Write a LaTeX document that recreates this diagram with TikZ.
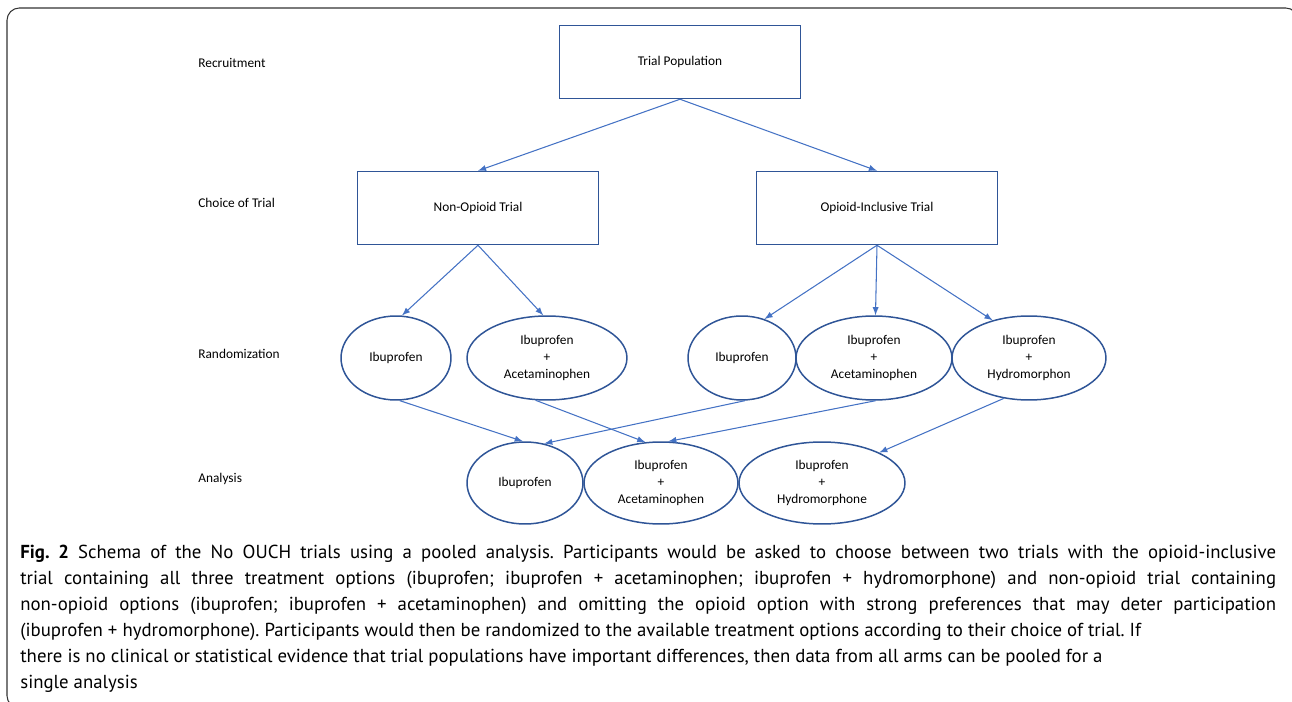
\documentclass[tikz,border=0pt]{standalone}
\usepackage{fontspec}
\setmainfont{Carlito}
\newfontfamily\capfont{PT Sans}
\usetikzlibrary{shapes.geometric}
\definecolor{boxblue}{RGB}{47,85,151}
\definecolor{arrblue}{RGB}{68,114,196}
\newlength\capw
\setlength\capw{25.12cm}

\begin{document}
\begin{tikzpicture}[x=0.02cm,y=-0.02cm,
    trial/.style={draw=boxblue,line width=0.85pt,minimum width=4.82cm,minimum height=1.46cm,inner sep=0pt,font=\fontsize{7.6}{9.6}\selectfont},
    arm/.style={ellipse,draw=boxblue,line width=0.85pt,inner sep=0pt,align=center,font=\fontsize{7.6}{9.6}\selectfont},
    stage/.style={anchor=west,inner sep=0pt,font=\fontsize{7.6}{9.6}\selectfont},
    arr/.style={-latex,draw=arrblue,line width=0.6pt}]
  \clip (0,0) rectangle (1292,702);
  \draw[rounded corners=7pt,line width=0.6pt,black!80] (7,8) rectangle (1298,708);
  % stages
  \node[stage] (recr) at (198,63) {Recruitment};
  \node[stage] (choice) at (198,203) {Choice of Trial};
  \node[stage] (rand) at (198,354) {Randomization};
  \node[stage] (anal) at (198,479) {Analysis};
  % trials
  \node[trial] (pop) at (680,62) {Trial Population};
  \node[trial] (nonop) at (478,208) {Non-Opioid Trial};
  \node[trial] (opinc) at (877,208) {Opioid-Inclusive Trial};
  % randomized arms
  \node[arm,minimum width=2.2cm,minimum height=1.68cm] (l1) at (396,358) {Ibuprofen};
  \node[arm,minimum width=3.2cm,minimum height=1.68cm] (l2) at (547,358) {Ibuprofen\\+\\Acetaminophen};
  \node[arm,minimum width=2.16cm,minimum height=1.68cm] (r1) at (742,358) {Ibuprofen};
  \node[arm,minimum width=3.12cm,minimum height=1.68cm] (r2) at (874,358) {Ibuprofen\\+\\Acetaminophen};
  \node[arm,minimum width=3.08cm,minimum height=1.68cm] (r3) at (1029,358) {Ibuprofen\\+\\Hydromorphon};
  % pooled analysis
  \node[arm,minimum width=2.32cm,minimum height=1.64cm] (a1) at (525,483) {Ibuprofen};
  \node[arm,minimum width=3.08cm,minimum height=1.64cm] (a2) at (661,483) {Ibuprofen\\+\\Acetaminophen};
  \node[arm,minimum width=3.32cm,minimum height=1.64cm] (a3) at (822,483) {Ibuprofen\\+\\Hydromorphone};
  % arrows
  \draw[arr] (pop.south) -- (nonop.north);
  \draw[arr] (pop.south) -- (opinc.north);
  \draw[arr] (nonop.south) -- (l1.82);
  \draw[arr] (nonop.south) -- (l2.95);
  \draw[arr] (opinc.south) -- (r1.60);
  \draw[arr] (opinc.south) -- (r2.88);
  \draw[arr] (opinc.south) -- (r3.134);
  \draw[arr] (l1.-85) -- (a1.93);
  \draw[arr] (r1.-86) -- (a1.64);
  \draw[arr] (l2.-105) -- (a2.111);
  \draw[arr] (r2.-88) -- (a2.80);
  \draw[arr] (r3.-122) -- (a3.28);
  % caption
  \node[anchor=base west,inner sep=0pt,align=left,font=\capfont\fontsize{10.7}{14.74}\selectfont\frenchspacing] (cap) at (20,688)
    {\makebox[\capw][s]{\textbf{Fig. 2} Schema of the No OUCH trials using a pooled analysis. Participants would be asked to choose between two trials with the opioid-inclusive}\\
     \makebox[\capw][s]{trial containing all three treatment options (ibuprofen; ibuprofen + acetaminophen; ibuprofen + hydromorphone) and non-opioid trial containing}\\
     \makebox[\capw][s]{non-opioid options (ibuprofen; ibuprofen + acetaminophen) and omitting the opioid option with strong preferences that may deter participation}\\
     (ibuprofen + hydromorphone). Participants would then be randomized to the available treatment options according to their choice of trial. If\\
     there is no clinical or statistical evidence that trial populations have important differences, then data from all arms can be pooled for a\\
     single analysis};
\end{tikzpicture}
\end{document}
